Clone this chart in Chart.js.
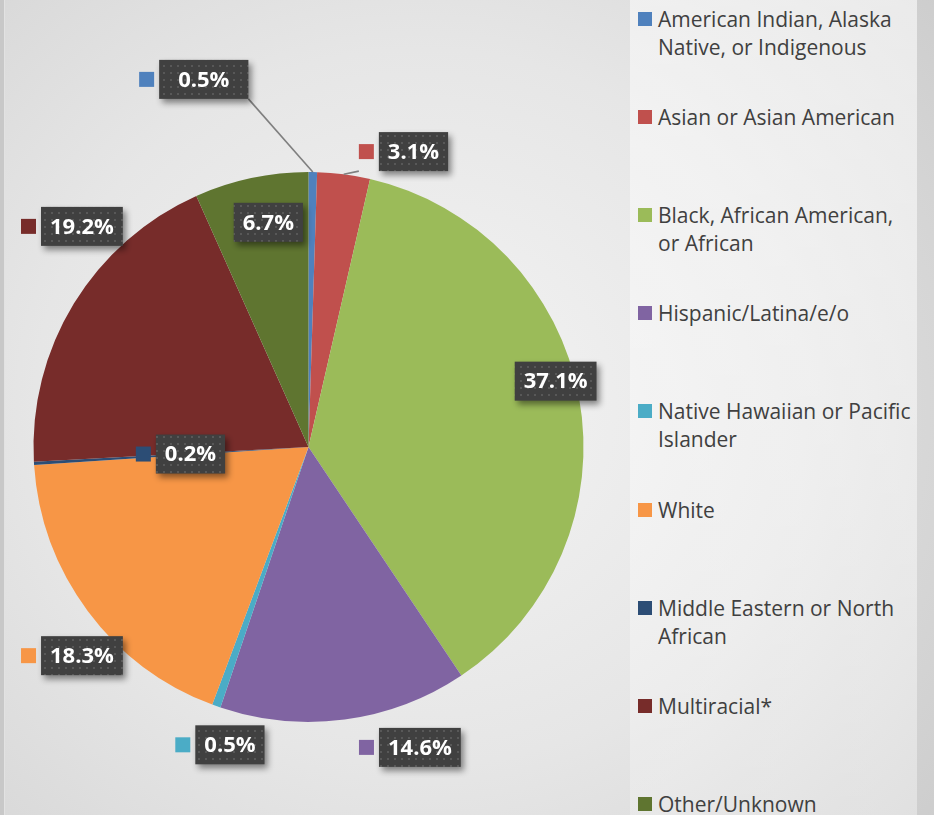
<!DOCTYPE html>
<html>
<head>
<meta charset="utf-8">
<title>Race / Ethnicity</title>
<script src="https://cdn.jsdelivr.net/npm/chart.js@4"></script>
<style>
  html, body { margin: 0; padding: 0; }
  body {
    width: 934px; height: 815px; overflow: hidden; position: relative;
    background: radial-gradient(ellipse 75% 80% at 45% 50%, #f4f4f4 0%, #e6e6e6 55%, #d4d4d4 100%);
    font-family: "Open Sans", "Noto Sans", sans-serif;
  }
  .edge-left { position: absolute; left: 0; top: 0; width: 4px; height: 815px; background: #c8c8c8; border-right: 1px solid #e2e2e2; }
  .panel {
    position: absolute; left: 630px; top: 0; width: 287px; height: 815px;
    background: linear-gradient(to bottom, rgba(255,255,255,0.5), rgba(255,255,255,0.25));
  }
  .edge-right { position: absolute; left: 917px; top: 0; width: 17px; height: 815px; background: rgba(0,0,0,0.035); }
  #chartBox { position: absolute; left: 0; top: 0; width: 620px; height: 815px; }
  #legend { position: absolute; left: 638px; top: 0; }
  .item { position: absolute; left: 0; white-space: nowrap; font-size: 21px; line-height: 28px; color: #404040; }
  .swatch { position: absolute; left: 0; top: 7px; width: 14px; height: 14px; }
  .item span.txt { display: block; margin-left: 20px; }
</style>
</head>
<body>
<div class="edge-left"></div>
<div class="panel"></div>
<div class="edge-right"></div>
<div id="chartBox"><canvas id="raceChart"></canvas></div>
<div id="legend"></div>

<script>
// Categories and shares (percent of respondents)
const categories = [
  ['American Indian, Alaska', 'Native, or Indigenous'],
  ['Asian or Asian American'],
  ['Black, African American,', 'or African'],
  ['Hispanic/Latina/e/o'],
  ['Native Hawaiian or Pacific', 'Islander'],
  ['White'],
  ['Middle Eastern or North', 'African'],
  ['Multiracial*'],
  ['Other/Unknown']
];
const shares = [0.5, 3.1, 37.1, 14.6, 0.5, 18.3, 0.2, 19.2, 6.7];
const sliceColors = ['#4f81bd', '#c0504d', '#9bbb59', '#8064a2', '#4bacc6',
                     '#f79646', '#2c4d75', '#772c2a', '#5f7530'];

// Where each value tag sits: angle shift from the slice middle (deg),
// distance as a fraction of the radius, key square, leader line
const tagPlacement = [
  { da: -16.8, r: 1.39, key: true, leader: true, pad: 19 },
  { da: 12.2,  r: 1.14, key: true, leader: true },
  { da: -4.5,  r: 0.93 },
  { da: -12.8, r: 1.165, key: true },
  { da: -4.8,  r: 1.12, key: true },
  { da: -6,    r: 1.12, key: true },
  { da: 0,     r: 0.43, key: true },
  { da: 12.8,  r: 1.15, key: true },
  { da: 1.9,   r: 0.83 }
];

// dotted dark fill used behind the value tags
function dotPattern(ctx) {
  const c = document.createElement('canvas');
  c.width = 7; c.height = 7;
  const p = c.getContext('2d');
  p.fillStyle = '#404040';
  p.fillRect(0, 0, 7, 7);
  p.fillStyle = '#585858';
  p.fillRect(2, 2, 2, 2);
  return ctx.createPattern(c, 'repeat');
}

const valueTags = {
  id: 'valueTags',
  afterDatasetsDraw(chart) {
    const ctx = chart.ctx;
    const arcs = chart.getDatasetMeta(0).data;
    const fill = dotPattern(ctx);
    ctx.save();
    ctx.font = 'bold 22px "Open Sans", sans-serif';
    arcs.forEach((arc, i) => {
      const pl = tagPlacement[i];
      const R = arc.outerRadius;
      const mid = (arc.startAngle + arc.endAngle) / 2;
      const a = mid + pl.da * Math.PI / 180;
      const cx = arc.x + Math.cos(a) * R * pl.r;
      const cy = arc.y + Math.sin(a) * R * pl.r;
      const text = shares[i].toFixed(1) + '%';
      const pad = pl.pad || 9;
      const w = ctx.measureText(text).width + pad * 2;
      const h = 39;
      const bx = cx - w / 2, by = cy - h / 2;
      const keySize = 15, keyGap = 5;
      const left = pl.key ? bx - keyGap - keySize : bx;

      if (pl.leader) {
        const ex = arc.x + Math.cos(mid) * R;
        const ey = arc.y + Math.sin(mid) * R;
        const nx = Math.min(Math.max(ex, left), bx + w);
        const ny = Math.min(Math.max(ey, by), by + h);
        ctx.strokeStyle = '#7f7f7f';
        ctx.lineWidth = 1.6;
        ctx.beginPath();
        ctx.moveTo(nx, ny);
        ctx.lineTo(ex, ey);
        ctx.stroke();
      }

      ctx.save();
      ctx.shadowColor = 'rgba(0,0,0,0.45)';
      ctx.shadowBlur = 6;
      ctx.shadowOffsetX = 3;
      ctx.shadowOffsetY = 4;
      ctx.fillStyle = fill;
      ctx.fillRect(bx, by, w, h);
      ctx.restore();

      if (pl.key) {
        ctx.fillStyle = sliceColors[i];
        ctx.fillRect(left, cy - keySize / 2, keySize, keySize);
      }

      ctx.fillStyle = '#ffffff';
      ctx.textAlign = 'center';
      ctx.textBaseline = 'middle';
      ctx.fillText(text, cx, cy + 1);
    });
    ctx.restore();
  }
};

const chart = new Chart(document.getElementById('raceChart').getContext('2d'), {
  type: 'pie',
  data: {
    labels: categories,
    datasets: [{
      data: shares,
      backgroundColor: sliceColors,
      borderWidth: 0
    }]
  },
  options: {
    responsive: true,
    maintainAspectRatio: false,
    animation: false,
    layout: { padding: { left: 33, right: 36, top: 172, bottom: 93 } },
    plugins: {
      legend: { display: false },
      tooltip: { enabled: false }
    }
  },
  plugins: [valueTags]
});

// legend column on the right panel
const legendEl = document.getElementById('legend');
categories.forEach((lines, i) => {
  const item = document.createElement('div');
  item.className = 'item';
  item.style.top = (5 + i * 98.1) + 'px';
  const sw = document.createElement('div');
  sw.className = 'swatch';
  sw.style.background = sliceColors[i];
  const txt = document.createElement('span');
  txt.className = 'txt';
  txt.innerHTML = lines.join('<br>');
  item.appendChild(sw);
  item.appendChild(txt);
  legendEl.appendChild(item);
});
</script>
</body>
</html>
